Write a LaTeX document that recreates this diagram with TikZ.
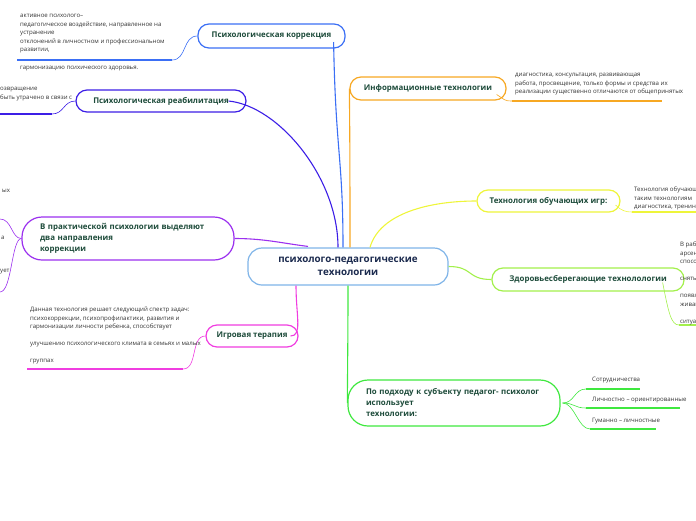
\documentclass[tikz,border=0pt]{standalone}
\usepackage{fontspec}
\setmainfont{Open Sans}
\usetikzlibrary{calc}
\definecolor{cCenter}{HTML}{7FB4E8}
\definecolor{cCorr}{HTML}{3B6FF5}
\definecolor{cRehab}{HTML}{3C1EE6}
\definecolor{cPract}{HTML}{9B30EF}
\definecolor{cGame}{HTML}{F03DE0}
\definecolor{cInfo}{HTML}{F7A823}
\definecolor{cLearn}{HTML}{EEF53A}
\definecolor{cHealth}{HTML}{A3F04C}
\definecolor{cSubj}{HTML}{3FE83F}
\definecolor{nodetext}{HTML}{1D4B3A}
\definecolor{navy}{HTML}{1B2A4E}
\definecolor{smalltext}{HTML}{333333}
\begin{document}
\begin{tikzpicture}[x=1pt,y=-1pt,
  mnode/.style={draw, rounded corners=11, line width=1.2pt, fill=white,
    font=\fontsize{7.9}{11}\selectfont\bfseries, text=nodetext, inner sep=0pt, align=center},
  small/.style={inner sep=0pt, anchor=north west, align=left,
    font=\fontsize{6.1}{8.5}\selectfont, text=smalltext},
  conn/.style={line width=1.1pt},
  branch/.style={line width=0.6pt},
  uline/.style={line width=1.8pt},
  thinline/.style={line width=1.1pt}
]
\useasboundingbox (0,0) rectangle (696,520);
\clip (0,0) rectangle (696,520);

% ---------- nodes ----------
\node[mnode, draw=cCenter, minimum width=200pt, minimum height=37pt, rounded corners=14,
  font=\fontsize{9.8}{13}\selectfont\bfseries, text=navy] (center) at (348,266.5)
  {психолого-педагогические\\технологии};
\node[mnode, draw=cCorr, minimum width=147pt, minimum height=24pt] (corr) at (271.5,36)
  {Психологическая коррекция};
\node[mnode, draw=cRehab, minimum width=170pt, minimum height=22pt] (rehab) at (161,101)
  {Психологическая реабилитация};
\node[mnode, draw=cPract, text width=176pt, inner xsep=18pt, minimum height=43pt,
  rounded corners=20, align=left] (pract) at (128,238.5)
  {В практической психологии выделяют\\два направления\\коррекции};
\node[mnode, draw=cGame, minimum width=92pt, minimum height=22pt] (game) at (252,336)
  {Игровая терапия};
\node[mnode, draw=cInfo, minimum width=156pt, minimum height=23pt] (info) at (428,88.5)
  {Информационные технологии};
\node[mnode, draw=cLearn, minimum width=143pt, minimum height=22pt] (learn) at (548.5,201)
  {Технология обучающих игр:};
\node[mnode, draw=cHealth, minimum width=192pt, minimum height=23pt] (health) at (588,279.5)
  {Здоровьесберегающие технолологии};
\node[mnode, draw=cSubj, text width=176pt, inner xsep=18pt, minimum height=46pt,
  rounded corners=20, align=left] (subj) at (454,403)
  {По подходу к субъекту педагог- психолог\\использует\\технологии:};

% ---------- main connectors ----------
\draw[conn, cCorr] ($(center.north)+(-5,0)$) .. controls +(0,-90) and +(2,110) .. ($(corr.east)+(-12,6)$);
\draw[conn, cRehab] ($(rehab.east)+(-18,0)$) .. controls +(50,5) and +(0,-70) .. ($(center.north)+(-10,0)$);
\draw[conn, cPract] (pract.east) .. controls +(30,0) and +(-25,-3) .. ($(center.north)+(-40,-1)$);
\draw[conn, cGame] ($(center.south)+(-52,0)$) .. controls +(0,30) and +(12,0) .. ($(game.east)+(-8,0)$);
\draw[conn, cInfo] ($(center.north)+(2,0)$) .. controls +(0,-130) and +(0,20) .. (info.west);
\draw[conn, cLearn] ($(center.north)+(22,0)$) .. controls +(10,-35) and +(-45,0) .. (learn.west);
\draw[conn, cHealth] (center.east) .. controls +(25,0) and +(-25,0) .. (health.west);
\draw[conn, cSubj] (center.south) .. controls +(0,60) and +(0,-30) .. (subj.west);

% ---------- branch end points ----------
\coordinate (ca) at (17,60);   \coordinate (cb) at (172,60);
\coordinate (ra) at (0,114);   \coordinate (rb) at (52,114);
\coordinate (pa) at (0,219);   \coordinate (pb) at (0,292);
\coordinate (ga) at (27,369);  \coordinate (gb) at (183,369);
\coordinate (ia) at (512,101); \coordinate (ib) at (662,101);
\coordinate (la) at (632,212); \coordinate (lb) at (696,212);
\coordinate (ha) at (679,325); \coordinate (hb) at (696,325);
\coordinate (s1a) at (586,389); \coordinate (s1b) at (640,389);
\coordinate (s2a) at (586,408); \coordinate (s2b) at (680,408);
\coordinate (s3a) at (590,429); \coordinate (s3b) at (656,429);

% ---------- branches ----------
\draw[branch, cCorr] (corr.west) .. controls +(-15,0) and +(15,0) .. (cb);
\draw[uline, cCorr] (ca) -- (cb);
\draw[branch, cRehab] (rehab.west) .. controls +(-12,0) and +(12,0) .. (rb);
\draw[uline, cRehab] (ra) -- (rb);
\draw[branch, cPract] (pract.west) .. controls +(-10,0) and +(12,0) .. (pa);
\draw[branch, cPract] (pract.west) .. controls +(-10,0) and +(12,0) .. (pb);
\draw[branch, cGame] (game.west) .. controls +(-15,0) and +(15,0) .. (gb);
\draw[uline, cGame] (ga) -- (gb);
\draw[branch, cInfo] ($(info.east)+(-10,6)$) .. controls +(8,5) and +(-8,0) .. (ia);
\draw[thinline, cInfo] (ia) -- (ib);
\draw[branch, cLearn] ($(learn.east)+(-5,4)$) .. controls +(6,6) and +(-6,0) .. (la);
\draw[thinline, cLearn] (la) -- (lb);
\draw[branch, cHealth] ($(health.east)+(-22,3)$) .. controls +(6,30) and +(-8,0) .. (ha);
\draw[thinline, cHealth] (ha) -- (hb);
\draw[branch, cSubj] ($(subj.east)+(2,0)$) .. controls +(12,0) and +(-12,0) .. (s1a);
\draw[branch, cSubj] ($(subj.east)+(2,0)$) .. controls +(12,0) and +(-12,0) .. (s2a);
\draw[branch, cSubj] ($(subj.east)+(2,0)$) .. controls +(12,0) and +(-12,0) .. (s3a);
\draw[uline, cSubj] (s1a) -- (s1b);
\draw[uline, cSubj] (s2a) -- (s2b);
\draw[uline, cSubj] (s3a) -- (s3b);

% ---------- texts ----------
\node[small] (t1) at (20,14) {активное психолого–\\педагогическое воздействие, направленное на\\устранение\\отклонений в личностном и профессиональном\\развитии,};
\node[small] (t2) at (20,66) {гармонизацию психического здоровья.};
\node[small] (t3) at (0,87) {озвращение\\быть утрачено в связи с};
\node[small] (t4) at (2,189) {ых};
\node[small] (t5) at (1,236) {а};
\node[small] (t6) at (0,269) {ует};
\node[small] (t7) at (30,307) {Данная технология решает следующий спектр задач:\\психокоррекции, психопрофилактики, развития и\\гармонизации личности ребенка, способствует\\[8.5pt]улучшению психологического климата в семьях и малых\\[8.5pt]группах};
\node[small] (t8) at (515,73) {диагностика, консультация, развивающая\\работа, просвещение, только формы и средства их\\реализации существенно отличаются от общепринятых};
\node[small] (t9) at (634,187) {Технология обучающ\\таким технологиям\\диагностика, тренин};
\node[small] (t10) at (680,242) {В раб\\арсен\\спосо\\[8.5pt]снять\\[8.5pt]появл\\живан\\[8.5pt]ситуа};
\node[small] (t11) at (592,377) {Сотрудничества};
\node[small] (t12) at (592,397) {Личностно – ориентированные};
\node[small] (t13) at (592,418) {Гуманно – личностные};
\end{tikzpicture}
\end{document}
